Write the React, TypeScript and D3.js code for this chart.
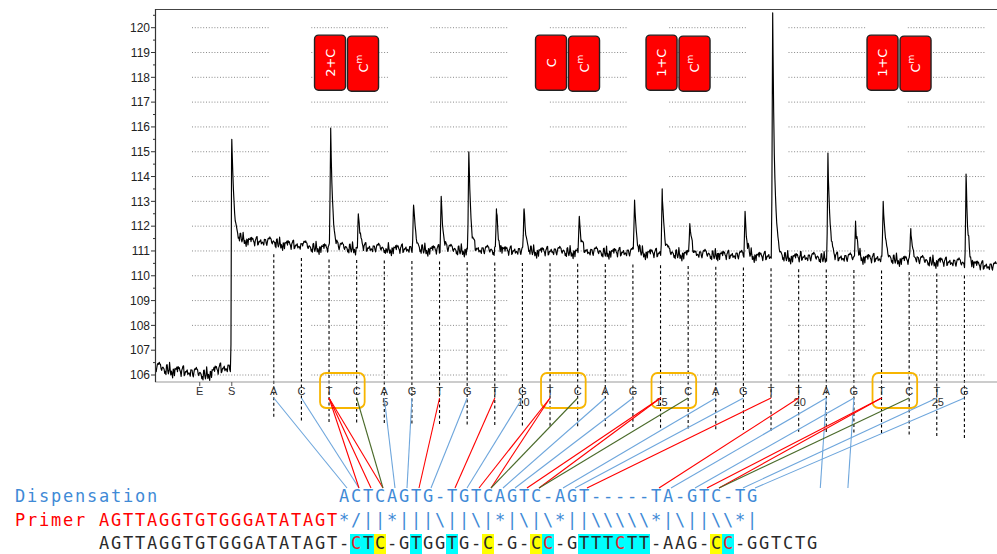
import React from "react";
import * as d3 from "d3";

// ---------- data ----------
const yTickValues = d3.range(106, 121);
const dispLetters = ["A","C","T","C","A","G","T","G","T","G","T","C","A","G","T","C","A","G","T","T","A","G","T","C","T","G"];
// peak top value read at each dispensation (baseline where no peak)
const peakTops = [111.3, 111.3, 115.95, 112.5, 111.1, 112.85, 113.2, 115.0, 112.7, 112.7, 111.0, 112.4, 110.95, 113.05, 113.5, 112.1, 110.9, 112.6, 120.6, 110.8, 114.95, 112.2, 113.0, 111.9, 110.6, 114.1];
const startLabels = ["E", "S"];
const startPos = [-1.68, -0.52];
const sPeakTop = 115.5;
const numberedIdx = [5, 10, 15, 20, 25];
const cpgT = [3, 11, 15, 23];
const methLabels = ["2+C", "C", "1+C", "1+C"];
// baseline of the trace (x in dispensation units, value)
const baseX = [-3.3, -2.6, -1.5, -1.0, -0.55, -0.53, -0.3, 0.2, 1.0, 2.3, 5.0, 10.0, 13.5, 17.0, 20.0, 23.0, 25.5, 27.2];
const baseV = [106.3, 106.2, 106.02, 106.25, 106.3, 111.8, 111.55, 111.4, 111.35, 111.15, 111.1, 111.0, 110.95, 110.85, 110.75, 110.7, 110.55, 110.35];
const jitter = [0.08,-0.12,0.15,-0.05,0.02,-0.18,0.11,0.04,-0.09,0.16,-0.14,0.01,0.07,-0.03,0.13,-0.16,0.05,-0.08,0.18,-0.02,-0.11,0.09,0.03,-0.15,0.12,-0.06,0.0,0.14,-0.13,0.06,-0.04,0.17,-0.1,0.02,-0.17,0.1,0.05,-0.07,0.12,-0.01,-0.14,0.08,0.15,-0.09,0.03,-0.12,0.06,0.11,-0.05,-0.16,0.09,0.01,-0.08,0.14,-0.03,0.07,-0.11,0.04,0.16,-0.06,-0.13];

// connectors: dispensation index -> column in the dispensation text row
const connSource = [1, 2, 3, 3, 3, 4, 5, 6, 7, 8, 9, 10, 11, 11, 12, 13, 14, 15, 15, 16, 17, 18, 19, 20, 21, 21, 22, 22, 23, 23, 24, 25, 26];
const connTarget = [27, 28, 28, 29, 30, 30, 31, 32, 33, 34, 36, 37, 38, 39, 39, 40, 41, 42, 43, 43, 45, 46, 47, 53, 54, -1, 56, -1, 57, 58, 58, 60, 61];
const connColor = ["b","b","r","r","r","g","b","b","r","b","r","b","r","r","g","b","b","r","r","g","b","b","r","r","b","b","b","b","r","r","g","b","b"];

const dispLabel = "Dispensation";
const dispRow = "ACTCAGTG-TGTCAGTC-AGT-----TA-GTC-TG";
const primerLabel = "Primer";
const primerSeq = "AGTTAGGTGTGGGATATAGT";
const matchRow = String.raw`*/||*|||\||\|*|\|\*||\\\\\*|\||\\*|`;
const seqRow = "AGTTAGGTGTGGGATATAGT-CTC-GTGGTG-C-G-CC-GTTTCTT-AAG-CC-GGTCTG";
const cyanCols = [28, 29, 33, 36, 44, 47, 48, 49, 50, 51, 52, 59];
const yellowCols = [30, 39, 43, 58];
const redTextCols = [28, 44, 50, 59];

// ---------- styles ----------
const BLUE = "#3f8ad6";
const LINE_BLUE = "#6ea6dc";
const RED = "#ff0000";
const GREEN = "#4a6a2a";
const MONO = "'DejaVu Sans Mono', monospace";
const SANS = "'Liberation Sans', Arial, sans-serif";

export default function App() {
  const xs = d3.scaleLinear().domain([-3.3, 27.18]).range([155, 997]);
  const ys = d3.scaleLinear().domain([106, 120]).range([375, 27.7]);
  const base = d3.scaleLinear().domain(baseX).range(baseV).clamp(true);

  // trace
  const peaks = [{ c: startPos[1], h: sPeakTop - base(startPos[1]) }].concat(
    dispLetters.map((_, k) => {
      const c = k + 1 + 0.06;
      return { c, h: Math.max(0, peakTops[k] - base(c)) };
    })
  );
  const centers = new Set(peaks.map((p) => p.c));
  const us = d3.range(-3.3, 27.18, 0.022).concat(peaks.map((p) => p.c)).sort((a, b) => a - b);
  const pts: [number, number][] = us.map((u, i) => {
    let v = base(u);
    if (!centers.has(u)) {
      const j1 = jitter[(i * 17) % jitter.length];
      const j2 = jitter[(i * 5 + 11) % jitter.length];
      v += (j1 * 1.1 + j2 * 0.5) * (u < -0.53 ? 1.15 : 1);
    }
    for (const p of peaks) {
      const d = u - p.c;
      if (d >= -0.04 && d < 0) v += p.h * (1 + d / 0.04);
      else if (d >= 0 && d < 0.6) v += p.h * Math.exp(-d / 0.07);
    }
    return [u, v];
  });
  const linePath = d3.line<[number, number]>().x((d) => xs(d[0])).y((d) => ys(d[1]))(pts) || "";

  const colX = (c: number) => 14 + c * 12 + 6;
  const gridSegStarts = d3.range(0, 7).map((k) => 192 + k * 119.3);

  const lineColor = (c: string) => (c === "r" ? RED : c === "g" ? GREEN : LINE_BLUE);

  return (
    <svg width={997} height={554} style={{ display: "block", position: "absolute", left: 0, top: 0, background: "#fff" }}>
      <defs>
        <clipPath id="plotclip">
          <rect x={155} y={9} width={842} height={373} />
        </clipPath>
      </defs>
      <rect x={0} y={0} width={997} height={554} fill="#fff" />

      {/* dotted grid segments */}
      {yTickValues.map((v) =>
        gridSegStarts.map((x0, k) => (
          <line key={`g${v}-${k}`} x1={x0} x2={Math.min(x0 + 77, 997)} y1={ys(v)} y2={ys(v)}
            stroke="#8a8a8a" strokeWidth={1} strokeDasharray="1 1.8" />
        ))
      )}

      {/* trace */}
      <path d={linePath} fill="none" stroke="#000" strokeWidth={1.15} strokeLinejoin="round" clipPath="url(#plotclip)" />

      {/* dashed vertical lines */}
      {dispLetters.map((_, k) => {
        const i = k + 1;
        const by = ys(base(i));
        return (
          <line key={`dv${i}`} x1={xs(i)} x2={xs(i)} y1={by + 12} y2={by + 177}
            stroke="#000" strokeWidth={1.1} strokeDasharray="3 2.5" />
        );
      })}

      {/* axes */}
      <line x1={155} x2={997} y1={382} y2={382} stroke="#999" strokeWidth={1.2} />
      <line x1={155} x2={997} y1={9.5} y2={9.5} stroke="#444" strokeWidth={1.2} />
      <line x1={155.5} x2={155.5} y1={9} y2={382} stroke="#333" strokeWidth={1.2} />
      {yTickValues.map((v) => (
        <g key={`yt${v}`}>
          <line x1={151} x2={155} y1={ys(v)} y2={ys(v)} stroke="#333" strokeWidth={1} />
          <text x={150} y={ys(v)} dy="0.35em" textAnchor="end" fontFamily={SANS} fontSize={12} fill="#222">{v}</text>
        </g>
      ))}
      {d3.range(105.5, 121, 1).filter((v) => ys(v) > 9 && ys(v) < 382).map((v) => (
        <line key={`ym${v}`} x1={153} x2={155} y1={ys(v)} y2={ys(v)} stroke="#333" strokeWidth={1} />
      ))}

      {/* x labels */}
      {startLabels.map((l, k) => (
        <g key={`sl${l}`}>
          <line x1={xs(startPos[k])} x2={xs(startPos[k])} y1={382} y2={386} stroke="#555" />
          <text x={xs(startPos[k])} y={395} textAnchor="middle" fontFamily={SANS} fontSize={11} fill="#333">{l}</text>
        </g>
      ))}
      {dispLetters.map((l, k) => (
        <text key={`dl${k}`} x={xs(k + 1)} y={395} textAnchor="middle" fontFamily={SANS} fontSize={11} fill="#333">{l}</text>
      ))}
      {numberedIdx.map((i) => (
        <text key={`n${i}`} x={xs(i) + 1} y={406} textAnchor="middle" fontFamily={SANS} fontSize={11} fill="#333">{i}</text>
      ))}

      {/* orange CpG boxes */}
      {cpgT.map((i) => (
        <rect key={`ob${i}`} x={xs(i) - 9} y={373} width={xs(i + 1) - xs(i) + 17} height={35} rx={6}
          fill="none" stroke="#f7b500" strokeWidth={1.8} />
      ))}

      {/* red methylation boxes */}
      {cpgT.map((i, k) => {
        const lx = xs(i) + 1 - 15.5;
        const top = ys(119.7);
        const h = ys(117.48) - top;
        return (
          <g key={`rb${i}`}>
            <rect x={lx} y={top} width={31} height={h} rx={4} fill="#ff0000" stroke="#222" strokeWidth={1.4} />
            <rect x={lx + 33} y={top + 1} width={31} height={h} rx={4} fill="#ff0000" stroke="#222" strokeWidth={1.4} />
            <text transform={`translate(${lx + 15.5},${top + h / 2}) rotate(-90)`} textAnchor="middle" dy="0.36em"
              fontFamily="'DejaVu Sans', sans-serif" fontSize={13} fill="#fff">{methLabels[k]}</text>
            <text transform={`translate(${lx + 33 + 15.5},${top + 1 + h / 2}) rotate(-90)`} textAnchor="middle" dy="0.36em"
              fontFamily="'DejaVu Sans', sans-serif" fontSize={13} fill="#fff">C<tspan dy="-6" fontSize={9}>m</tspan></text>
          </g>
        );
      })}

      {/* connectors */}
      {connSource.map((s, k) => {
        const t = connTarget[k];
        const x1 = xs(s);
        const x2 = t < 0 ? xs(s) - 6 : colX(t) + 3;
        return (
          <line key={`c${k}`} x1={x1} y1={398} x2={x2} y2={488} stroke={lineColor(connColor[k])} strokeWidth={1.1} />
        );
      })}

      {/* highlight boxes */}
      {cyanCols.map((c) => (
        <rect key={`cy${c}`} x={14 + c * 12} y={534} width={12} height={20} fill="#00ffff" />
      ))}
      {yellowCols.map((c) => (
        <rect key={`ye${c}`} x={14 + c * 12} y={534} width={12} height={20} fill="#ffff00" />
      ))}

      {/* text rows */}
      <g fontFamily={MONO} fontSize={17} textAnchor="middle">
        {dispLabel.split("").map((ch, i) => (
          <text key={`a${i}`} x={colX(i)} y={502} fill={BLUE}>{ch}</text>
        ))}
        {dispRow.split("").map((ch, i) => (
          <text key={`b${i}`} x={colX(27 + i)} y={502} fill={BLUE}>{ch}</text>
        ))}
        {primerLabel.split("").map((ch, i) => (
          <text key={`p${i}`} x={colX(i)} y={526} fill={RED}>{ch}</text>
        ))}
        {primerSeq.split("").map((ch, i) => (
          <text key={`q${i}`} x={colX(7 + i)} y={526} fill={RED}>{ch}</text>
        ))}
        {matchRow.split("").map((ch, i) => (
          <text key={`m${i}`} x={colX(27 + i)} y={526} fill={BLUE}>{ch}</text>
        ))}
        {seqRow.split("").map((ch, i) => (
          <text key={`s${i}`} x={colX(7 + i)} y={549} fill={redTextCols.includes(7 + i) ? "#e8202a" : "#2a2a2a"}>{ch}</text>
        ))}
      </g>
    </svg>
  );
}
